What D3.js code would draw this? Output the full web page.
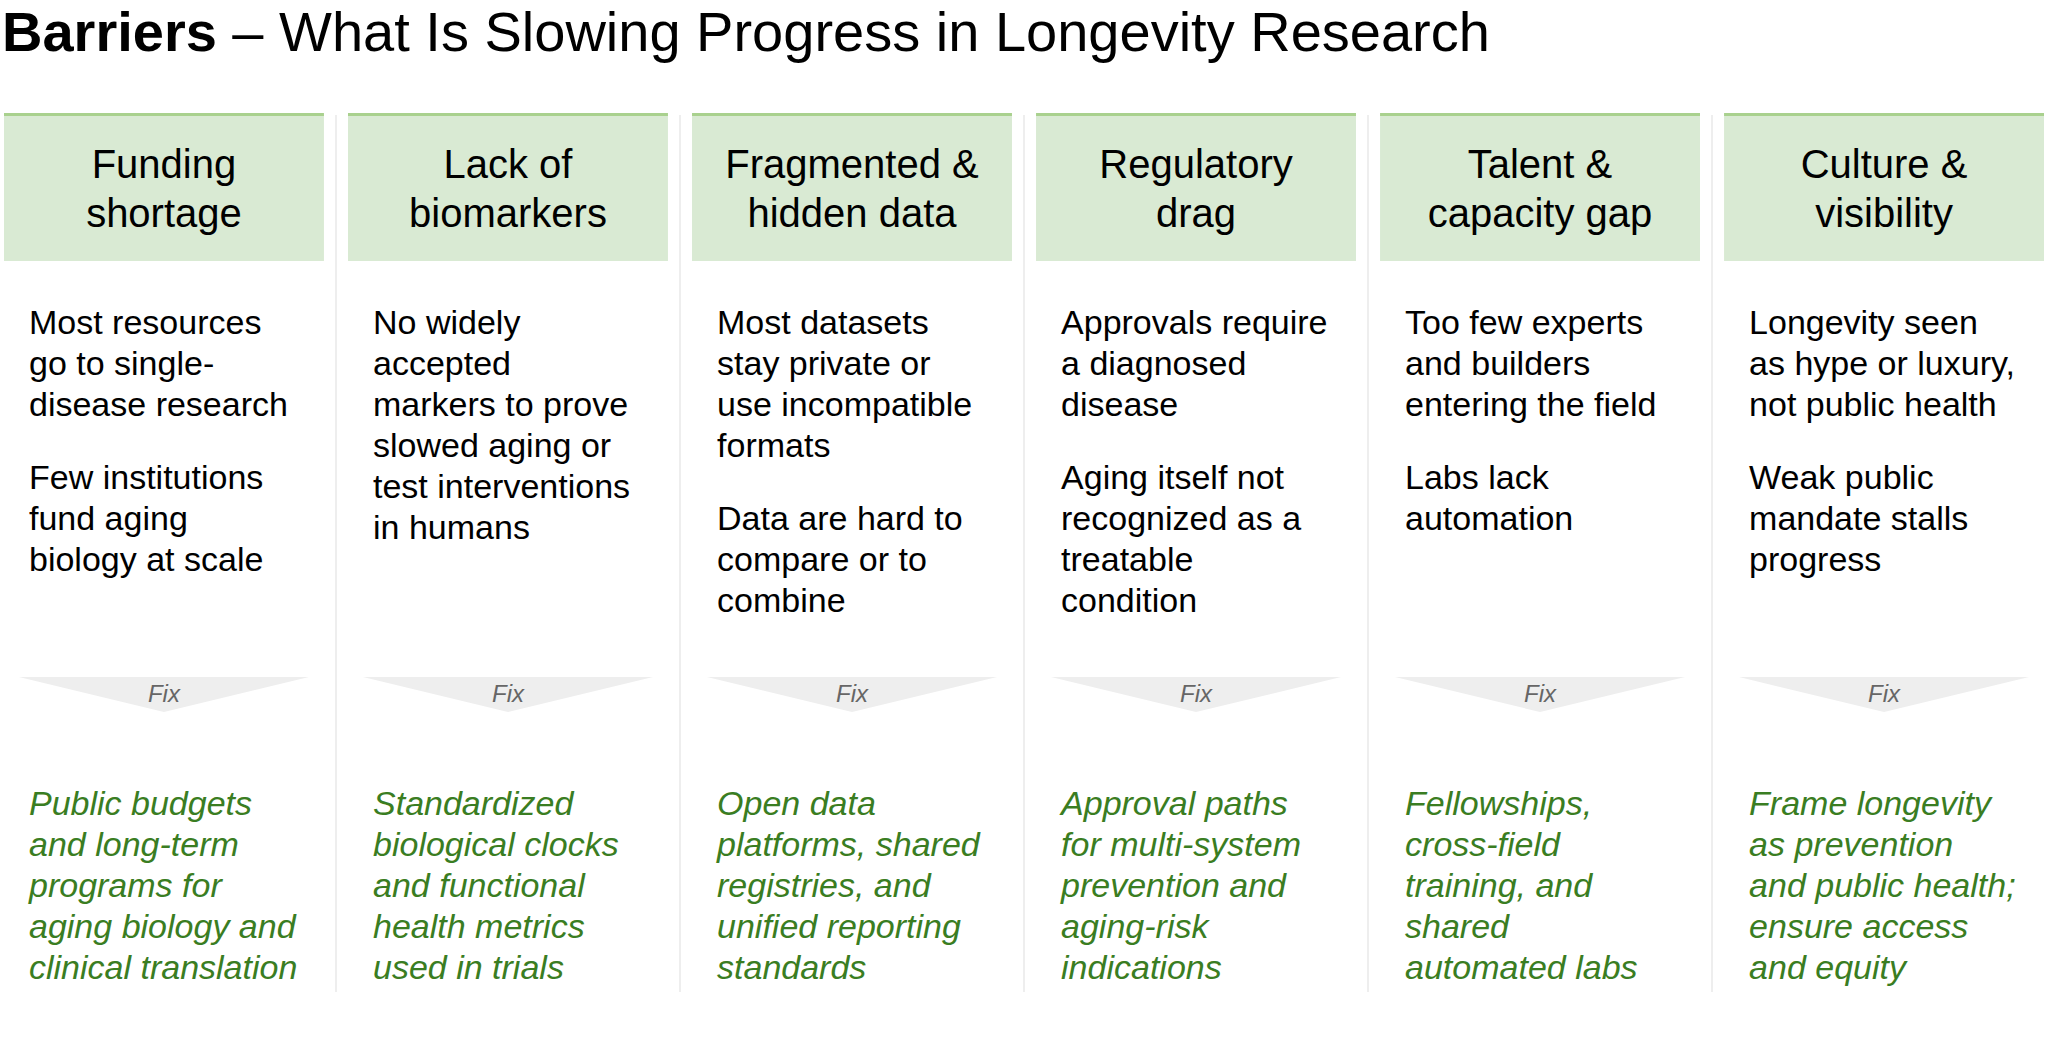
<!DOCTYPE html>
<html>
<head>
<meta charset="utf-8">
<script src="https://cdn.jsdelivr.net/npm/d3@7"></script>
<style>
  body { margin: 0; background: #fff; }
  svg { display: block; font-family: "Liberation Sans", Arial, sans-serif; }
</style>
</head>
<body>
<svg id="chart" width="2048" height="1042"></svg>
<script>
// column headers (each entry = lines of the header)
const barriers = [
  ["Funding", "shortage"],
  ["Lack of", "biomarkers"],
  ["Fragmented &", "hidden data"],
  ["Regulatory", "drag"],
  ["Talent &", "capacity gap"],
  ["Culture &", "visibility"]
];

// problem paragraphs per column, already wrapped as in the slide
const problems = [
  [["Most resources", "go to single-", "disease research"],
   ["Few institutions", "fund aging", "biology at scale"]],
  [["No widely", "accepted", "markers to prove", "slowed aging or", "test interventions", "in humans"]],
  [["Most datasets", "stay private or", "use incompatible", "formats"],
   ["Data are hard to", "compare or to", "combine"]],
  [["Approvals require", "a diagnosed", "disease"],
   ["Aging itself not", "recognized as a", "treatable", "condition"]],
  [["Too few experts", "and builders", "entering the field"],
   ["Labs lack", "automation"]],
  [["Longevity seen", "as hype or luxury,", "not public health"],
   ["Weak public", "mandate stalls", "progress"]]
];

// proposed fixes per column
const fixes = [
  ["Public budgets", "and long-term", "programs for", "aging biology and", "clinical translation"],
  ["Standardized", "biological clocks", "and functional", "health metrics", "used in trials"],
  ["Open data", "platforms, shared", "registries, and", "unified reporting", "standards"],
  ["Approval paths", "for multi-system", "prevention and", "aging-risk", "indications"],
  ["Fellowships,", "cross-field", "training, and", "shared", "automated labs"],
  ["Frame longevity", "as prevention", "and public health;", "ensure access", "and equity"]
];

const fixLabel = "Fix";

const svg = d3.select("#chart");
const lineH = 41;     // body line height
const paraGap = 32;   // extra space between paragraphs

// title
const title = svg.append("text")
    .attr("x", 2)
    .attr("y", 51)
    .attr("font-size", 56)
    .attr("fill", "#000");
title.append("tspan").attr("font-weight", "bold").text("Barriers");
title.append("tspan").text(" \u2013 What Is Slowing Progress in Longevity Research");

const x = d3.scaleBand()
    .domain(d3.range(barriers.length))
    .range([4, 2044])
    .paddingInner(0.07)
    .paddingOuter(0);
const bw = x.bandwidth();
const gap = x.step() - bw;

// thin separators between columns
svg.append("g")
    .selectAll("line")
    .data(d3.range(1, barriers.length))
    .enter()
    .append("line")
    .attr("x1", d => x(d) - gap / 2)
    .attr("x2", d => x(d) - gap / 2)
    .attr("y1", 115)
    .attr("y2", 992)
    .attr("stroke", "#eeeeee")
    .attr("stroke-width", 2);

const cols = svg.append("g")
    .selectAll("g")
    .data(barriers)
    .enter()
    .append("g")
    .attr("transform", (d, i) => "translate(" + x(i) + ",0)");

// header boxes
cols.append("rect")
    .attr("x", 0)
    .attr("y", 115)
    .attr("width", bw)
    .attr("height", 146)
    .attr("fill", "#d9ead3");
cols.append("rect")
    .attr("x", 0)
    .attr("y", 113)
    .attr("width", bw)
    .attr("height", 3)
    .attr("fill", "#a9d18e");

cols.append("text")
    .attr("text-anchor", "middle")
    .attr("font-size", 40)
    .attr("fill", "#000")
    .selectAll("tspan")
    .data(d => d)
    .enter()
    .append("tspan")
    .attr("x", bw / 2)
    .attr("y", (d, i) => 178 + i * 49)
    .text(d => d);

// problem text
cols.each(function(d, i) {
  const g = d3.select(this);
  let y = 334;
  problems[i].forEach(function(para) {
    g.append("text")
        .attr("font-size", 34)
        .attr("fill", "#000")
        .selectAll("tspan")
        .data(para)
        .enter()
        .append("tspan")
        .attr("x", 25)
        .attr("y", (l, j) => y + j * lineH)
        .text(l => l);
    y += para.length * lineH + paraGap;
  });
});

// "Fix" chevrons
cols.append("path")
    .attr("d", "M" + (bw / 2 - 145) + ",677L" + (bw / 2 + 145) + ",677L" + (bw / 2) + ",712Z")
    .attr("fill", "#eeeeee");
cols.append("text")
    .attr("x", bw / 2)
    .attr("y", 702)
    .attr("text-anchor", "middle")
    .attr("font-size", 24)
    .attr("font-style", "italic")
    .attr("fill", "#666666")
    .text(fixLabel);

// fix text
cols.append("text")
    .attr("font-size", 34)
    .attr("font-style", "italic")
    .attr("fill", "#3a7d22")
    .selectAll("tspan")
    .data((d, i) => fixes[i])
    .enter()
    .append("tspan")
    .attr("x", 25)
    .attr("y", (l, j) => 815 + j * lineH)
    .text(l => l);
</script>
</body>
</html>
